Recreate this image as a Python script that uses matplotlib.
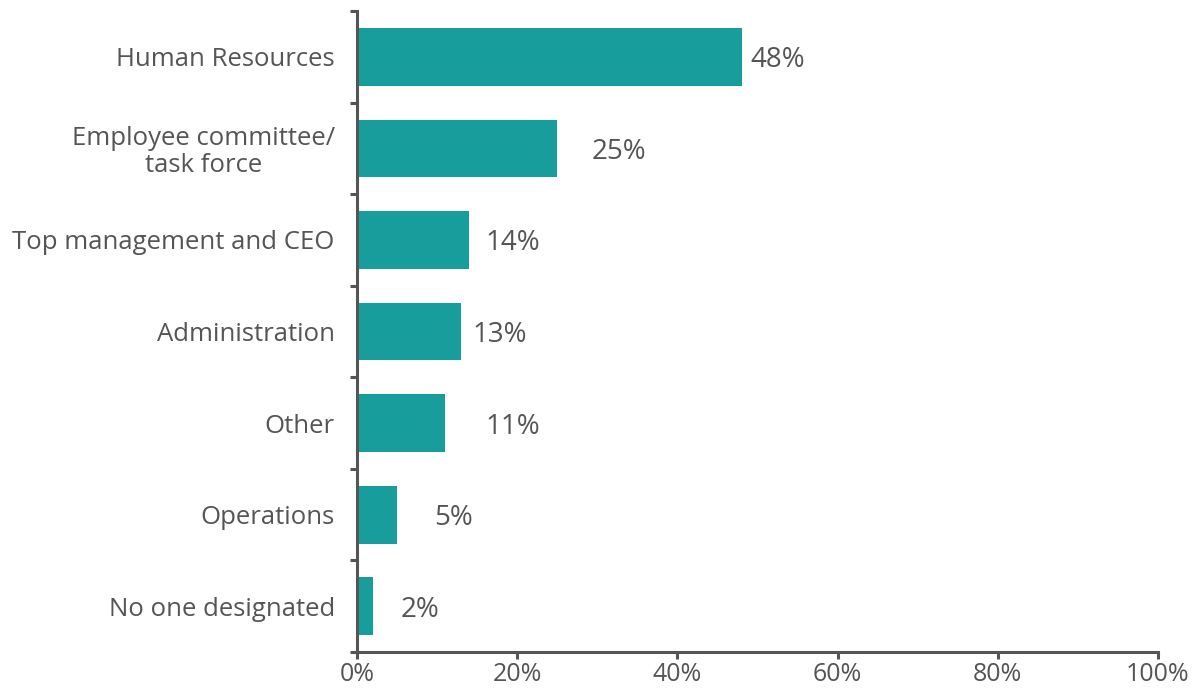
import numpy as np
import matplotlib.pyplot as plt
from matplotlib.ticker import FixedLocator, PercentFormatter

# Who leads the initiative, share of responses
categories = ["Human Resources", "Employee committee/\ntask force",
              "Top management and CEO", "Administration", "Other",
              "Operations", "No one designated"]
shares = [48, 25, 14, 13, 11, 5, 2]
label_offsets = [1.1, 4.3, 2.0, 1.4, 5.0, 4.6, 3.4]

bar_color = "#189d9d"
ink = "#555555"

plt.rcParams["font.family"] = ["Open Sans", "DejaVu Sans"]

fig = plt.figure(figsize=(11.97, 6.94), dpi=100)
ax = fig.add_axes([0.2983, 0.0605, 0.6691, 0.9236])

y = np.arange(len(categories))
ax.barh(y, shares, height=0.63, color=bar_color)

for yi, v, off in zip(y, shares, label_offsets):
    ax.text(v + off, yi, f"{v}%", va="center_baseline", ha="left",
            fontsize=20, color=ink)

ax.set_xlim(0, 100)
ax.set_ylim(len(categories) - 0.5, -0.5)
ax.set_xticks([0, 20, 40, 60, 80, 100])
ax.xaxis.set_major_formatter(PercentFormatter(decimals=0))
ax.set_yticks(y)
ax.set_yticklabels(categories, multialignment="center", linespacing=1.1)
ax.yaxis.set_minor_locator(FixedLocator(np.arange(-0.5, len(categories), 1.0)))

ax.tick_params(axis="y", which="major", length=0, pad=16, labelsize=18.5,
               labelcolor=ink)
ax.tick_params(axis="y", which="minor", length=5, width=2.2, color=ink)
ax.tick_params(axis="x", length=5, width=2.2, color=ink, pad=2,
               labelsize=18, labelcolor=ink)

for side in ["top", "right"]:
    ax.spines[side].set_visible(False)
for side in ["left", "bottom"]:
    ax.spines[side].set_linewidth(2.2)
    ax.spines[side].set_color(ink)

fig.savefig("out.png", dpi=100)
